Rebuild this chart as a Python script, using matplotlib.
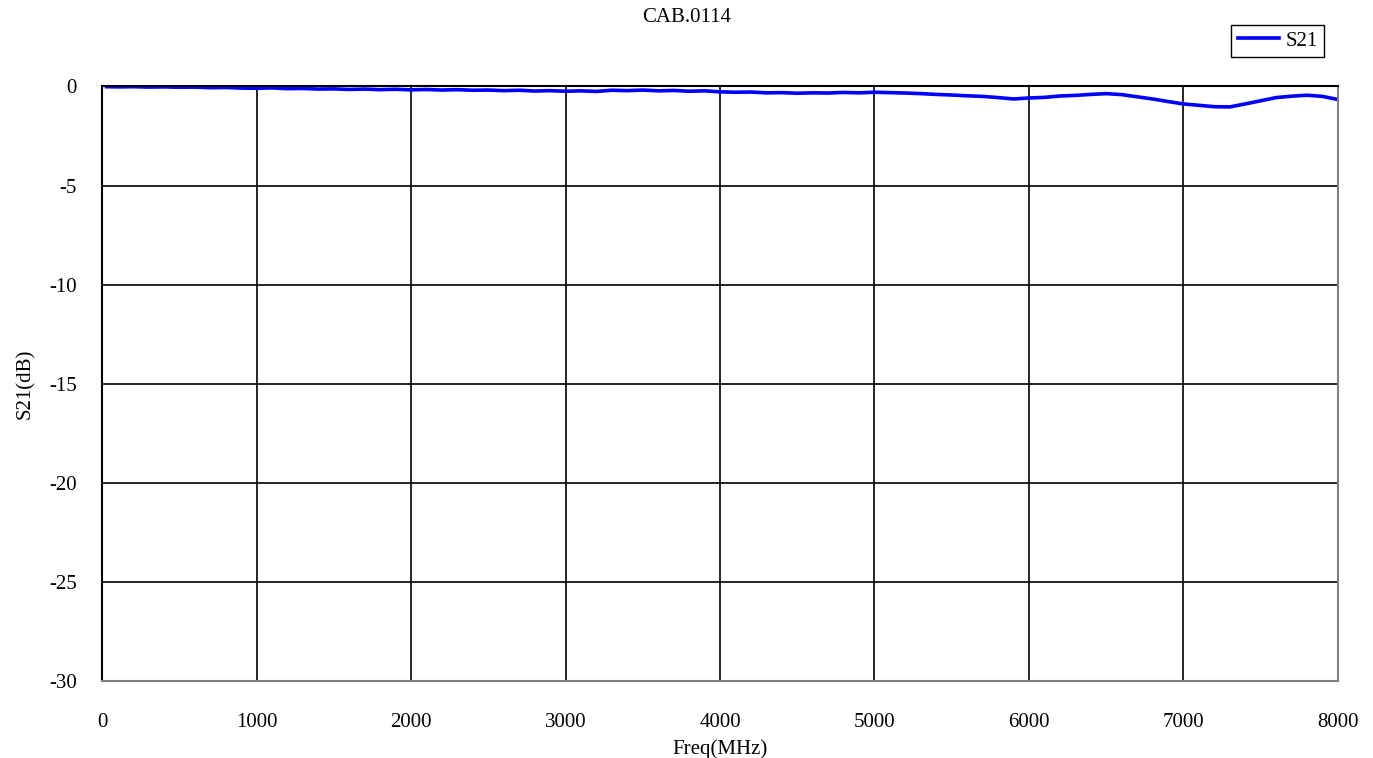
import matplotlib
matplotlib.use('Agg')
import matplotlib.pyplot as plt

# S21 sweep, 100 MHz step
freq_mhz = [30] + list(range(100, 8001, 100))
s21_db = [
    -0.01, -0.02, -0.01, -0.03, -0.02, -0.04, -0.03, -0.06, -0.05, -0.08,
    -0.09, -0.07, -0.11, -0.10, -0.13, -0.12, -0.15, -0.13, -0.16, -0.14,
    -0.17, -0.15, -0.18, -0.16, -0.19, -0.18, -0.21, -0.19, -0.23, -0.21,
    -0.24, -0.22, -0.25, -0.19, -0.21, -0.18, -0.22, -0.20, -0.24, -0.22,
    -0.27, -0.29, -0.28, -0.32, -0.31, -0.34, -0.32, -0.33, -0.30, -0.32,
    -0.29, -0.31, -0.33, -0.36, -0.40, -0.43, -0.47, -0.50, -0.56, -0.63,
    -0.58, -0.55, -0.48, -0.45, -0.40, -0.36, -0.41, -0.52, -0.63, -0.76,
    -0.88, -0.95, -1.02, -1.03, -0.88, -0.72, -0.56, -0.49, -0.44, -0.50,
    -0.66,
]
x_ticks = list(range(0, 8001, 1000))
y_ticks = list(range(-30, 1, 5))

plt.rcParams['font.family'] = ['Liberation Serif', 'DejaVu Serif']
plt.rcParams['axes.unicode_minus'] = False

fig = plt.figure(figsize=(13.73, 7.58), dpi=100)
ax = fig.add_axes([0.0743, 0.1016, 0.9002, 0.7843])

ax.plot(freq_mhz, s21_db, color='#0000FF', linewidth=2.6, label='S21')

ax.set_xlim(0, 8000)
ax.set_ylim(-30, 0)
ax.set_xticks(x_ticks)
ax.set_yticks(y_ticks)
ax.grid(True, color='black', linewidth=1.2)
ax.set_axisbelow(True)

ax.spines['left'].set_color('black')
ax.spines['top'].set_color('black')
ax.spines['bottom'].set_color('#808080')
ax.spines['right'].set_color('#808080')
for s in ax.spines.values():
    s.set_linewidth(1.5)

ax.tick_params(axis='x', length=0, pad=23, labelsize=15)
ax.tick_params(axis='y', length=0, pad=18, labelsize=15)

ax.set_xlabel('Freq(MHz)', fontsize=15, labelpad=5)
ax.set_ylabel('S21(dB)', fontsize=15, labelpad=10)

fig.text(0.5, 1 - 18 / 758, 'CAB.0114', ha='center', va='center', fontsize=15)

leg = ax.legend(loc='upper right', bbox_to_anchor=(0.9887, 1.1035),
                borderaxespad=0, fancybox=False, framealpha=1,
                edgecolor='black', fontsize=15, handlelength=2.0,
                handletextpad=0.3, borderpad=0.3)
leg.get_frame().set_linewidth(1.0)

fig.savefig('out.png', dpi=100)
